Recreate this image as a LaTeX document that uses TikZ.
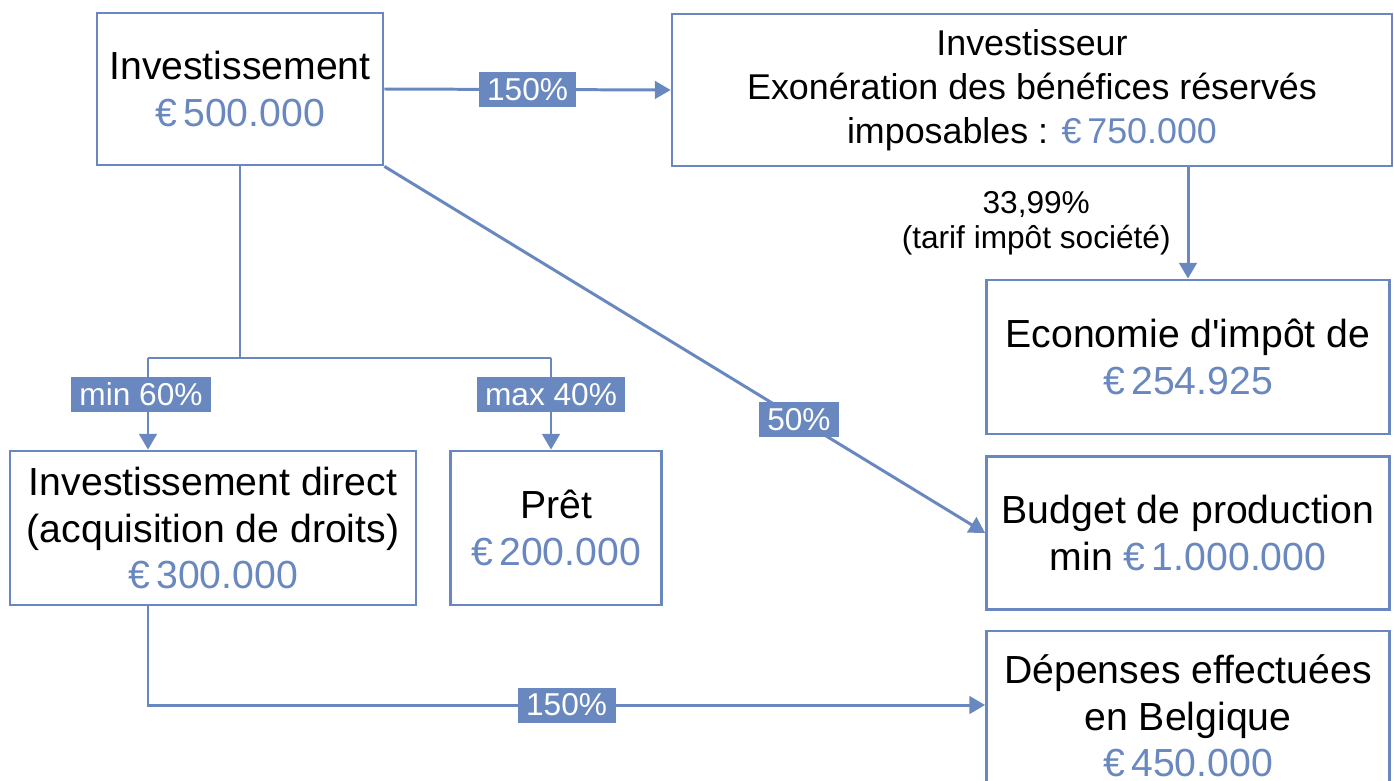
\documentclass[tikz,border=0pt]{standalone}
\usepackage{fontspec}
\setmainfont{Liberation Sans}
\usepackage{tikz}
\usetikzlibrary{arrows.meta,positioning}
\definecolor{accent}{RGB}{105,136,192}
\newcommand{\montant}[1]{{\color{accent}€\,#1}}

\begin{document}
\begin{tikzpicture}[x=0.02cm,y=-0.02cm,
		box/.style={draw=accent,line width=1.6pt,inner sep=0pt,align=center,
			font=\fontsize{22.3}{26.5}\selectfont},
		line/.style={draw=accent,line width=1.7pt},
		arr/.style={line,-{Triangle[length=9pt,width=10pt]}},
		tag/.style={fill=accent,text=white,inner xsep=0.17cm,inner ysep=0pt,
			minimum height=0.7cm,font=\fontsize{18}{20}\selectfont}]

		\clip (0,0) rectangle (1394,781);

		\node [box,minimum width=5.72cm,minimum height=3.04cm] (inv) at (240,89)
			{Investissement\\\montant{500.000}};
		\node [box,minimum width=14.4cm,minimum height=3.04cm,
			font=\fontsize{20.4}{24.9}\selectfont] (invr) at (1032,90)
			{Investisseur\\Exonération des bénéfices réservés\\imposables : \montant{750.000}};
		\node [box,minimum width=8.06cm,minimum height=3.08cm] (eco) at (1188,357)
			{Economie d\textquotesingle impôt de\\\montant{254.925}};
		\node [box,minimum width=8.06cm,minimum height=3.06cm] (budget) at (1188,533)
			{Budget de production\\min \montant{1.000.000}};
		\node [box,minimum width=8.06cm,minimum height=3.4cm] (dep) at (1188,716)
			{Dépenses effectuées\\en Belgique\\\montant{450.000}};
		\node [box,minimum width=8.12cm,minimum height=3.08cm] (direct) at (213,528)
			{Investissement direct\\(acquisition de droits)\\\montant{300.000}};
		\node [box,minimum width=4.22cm,minimum height=3.08cm] (pret) at (556,528)
			{Prêt\\\montant{200.000}};

		\coordinate (left) at (148,358);
		\coordinate (right) at (551,358);

		\draw [arr] (inv.east) -- node [tag] {150\%} (invr.west);
		\draw [line] (inv.south) -- (inv.south |- left);
		\draw [line] (left) -- (right);
		\draw [arr] (left) -- node [tag,pos=0.4,xshift=-0.14cm] {min 60\%} (direct.north -| left);
		\draw [arr] (right) -- node [tag,pos=0.4] {max 40\%} (pret.north -| right);
		\draw [arr] (inv.south east) -- node [tag,pos=0.69] {50\%} (budget.west);
		\draw [arr] (invr.south -| eco.north) -- node [left=0.2cm,align=center,
			font=\fontsize{18}{20}\selectfont] {33,99\%\\(tarif impôt société)} (eco.north);
		\draw [arr] (direct.south -| left) |- node [tag,pos=0.75] {150\%}
			([yshift=0.22cm]dep.west);

\end{tikzpicture}
\end{document}
